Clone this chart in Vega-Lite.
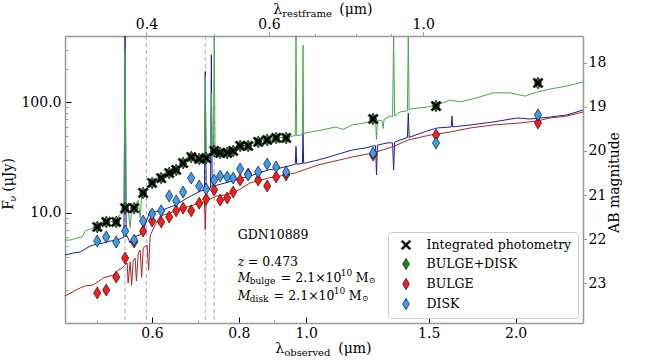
{
"$schema":"https://vega.github.io/schema/vega-lite/v6.json",
"width":518,"height":287,
"autosize":{"type":"none"},
"padding":{"left":65,"top":36,"right":65,"bottom":37},
"config":{
 "view":{"stroke":null},
 "font":"DejaVu Serif",
 "axis":{"labelFont":"DejaVu Serif","labelFontSize":14,"labelColor":"black","domainColor":"#999999","domainWidth":1.5,"grid":false,"titleFont":"DejaVu Serif","titleFontSize":14,"titleFontWeight":"normal","titleColor":"black","labelOverlap":false,"labelFlush":false},
 "text":{"font":"DejaVu Serif","color":"black"}
},
"datasets":{
 "vl":[{"lam":0.549},{"lam":0.589},{"lam":0.716},{"lam":0.7375}],
 "spec":[
{"c":"bd","lam":0.45,"f":5.65},{"c":"bd","lam":0.4578,"f":5.65},{"c":"bd","lam":0.4686,"f":5.9},{"c":"bd","lam":0.4764,"f":6.02},{"c":"bd","lam":0.4812,"f":6.82},{"c":"bd","lam":0.4892,"f":7.11},{"c":"bd","lam":0.5007,"f":7.42},{"c":"bd","lam":0.5107,"f":8.07},{"c":"bd","lam":0.5158,"f":8.24},{"c":"bd","lam":0.5227,"f":8.24},{"c":"bd","lam":0.5331,"f":8.59},{"c":"bd","lam":0.5401,"f":9.73},{"c":"bd","lam":0.547,"f":10.0},{"c":"bd","lam":0.549,"f":300},{"c":"bd","lam":0.551,"f":10.5},{"c":"bd","lam":0.5546,"f":10.8},{"c":"bd","lam":0.5583,"f":7.3},{"c":"bd","lam":0.561,"f":10.9},{"c":"bd","lam":0.5657,"f":11.3},{"c":"bd","lam":0.5734,"f":13.0},{"c":"bd","lam":0.5771,"f":9.0},{"c":"bd","lam":0.58,"f":14.0},{"c":"bd","lam":0.5828,"f":15.1},{"c":"bd","lam":0.5905,"f":16.7},{"c":"bd","lam":0.6004,"f":18.6},{"c":"bd","lam":0.6105,"f":19.8},{"c":"bd","lam":0.6187,"f":20.6},{"c":"bd","lam":0.6269,"f":22.0},{"c":"bd","lam":0.6353,"f":22.9},{"c":"bd","lam":0.6502,"f":24.9},{"c":"bd","lam":0.6653,"f":28.2},{"c":"bd","lam":0.6833,"f":31.3},{"c":"bd","lam":0.7017,"f":31.3},{"c":"bd","lam":0.711,"f":32.0},{"c":"bd","lam":0.714,"f":31.5},{"c":"bd","lam":0.716,"f":170},{"c":"bd","lam":0.718,"f":31.5},{"c":"bd","lam":0.7253,"f":33.3},{"c":"bd","lam":0.7285,"f":33.5},{"c":"bd","lam":0.7305,"f":120},{"c":"bd","lam":0.7325,"f":33.8},{"c":"bd","lam":0.7355,"f":34},{"c":"bd","lam":0.7375,"f":400},{"c":"bd","lam":0.7395,"f":35},{"c":"bd","lam":0.7521,"f":35.5},{"c":"bd","lam":0.7698,"f":35.5},{"c":"bd","lam":0.7852,"f":37.0},{"c":"bd","lam":0.8036,"f":40.3},{"c":"bd","lam":0.8251,"f":41.1},{"c":"bd","lam":0.853,"f":43.8},{"c":"bd","lam":0.8787,"f":45.6},{"c":"bd","lam":0.9053,"f":47.6},{"c":"bd","lam":0.9357,"f":48.6},{"c":"bd","lam":0.9576,"f":49.6},{"c":"bd","lam":0.9645,"f":50},{"c":"bd","lam":0.9668,"f":400},{"c":"bd","lam":0.969,"f":50},{"c":"bd","lam":0.98,"f":50.6},{"c":"bd","lam":0.9875,"f":51},{"c":"bd","lam":0.9895,"f":330},{"c":"bd","lam":0.9915,"f":51},{"c":"bd","lam":0.9964,"f":52.8},{"c":"bd","lam":1.054,"f":56.2},{"c":"bd","lam":1.1,"f":59.8},{"c":"bd","lam":1.13,"f":57.0},{"c":"bd","lam":1.164,"f":62.4},{"c":"bd","lam":1.215,"f":65.1},{"c":"bd","lam":1.248,"f":69.2},{"c":"bd","lam":1.258,"f":69.5},{"c":"bd","lam":1.262,"f":46},{"c":"bd","lam":1.266,"f":69},{"c":"bd","lam":1.286,"f":68},{"c":"bd","lam":1.29,"f":58},{"c":"bd","lam":1.294,"f":70},{"c":"bd","lam":1.32,"f":75.3},{"c":"bd","lam":1.331,"f":74},{"c":"bd","lam":1.3355,"f":400},{"c":"bd","lam":1.34,"f":75},{"c":"bd","lam":1.364,"f":81.8},{"c":"bd","lam":1.398,"f":84},{"c":"bd","lam":1.402,"f":400},{"c":"bd","lam":1.406,"f":85},{"c":"bd","lam":1.41,"f":87.1},{"c":"bd","lam":1.492,"f":90.8},{"c":"bd","lam":1.557,"f":96.7},{"c":"bd","lam":1.61,"f":105},{"c":"bd","lam":1.664,"f":101},{"c":"bd","lam":1.76,"f":110},{"c":"bd","lam":1.855,"f":122},{"c":"bd","lam":1.963,"f":122},{"c":"bd","lam":2.063,"f":114},{"c":"bd","lam":2.146,"f":124},{"c":"bd","lam":2.241,"f":132},{"c":"bd","lam":2.371,"f":141},{"c":"bd","lam":2.5,"f":153},
{"c":"d","lam":0.45,"f":4.14},{"c":"d","lam":0.4624,"f":4.31},{"c":"d","lam":0.4733,"f":4.4},{"c":"d","lam":0.4892,"f":4.99},{"c":"d","lam":0.5007,"f":5.2},{"c":"d","lam":0.5107,"f":5.31},{"c":"d","lam":0.5227,"f":5.54},{"c":"d","lam":0.5348,"f":5.65},{"c":"d","lam":0.5437,"f":5.9},{"c":"d","lam":0.547,"f":6.0},{"c":"d","lam":0.549,"f":400},{"c":"d","lam":0.551,"f":6.1},{"c":"d","lam":0.5528,"f":6.15},{"c":"d","lam":0.5583,"f":5.31},{"c":"d","lam":0.5638,"f":6.02},{"c":"d","lam":0.5771,"f":6.28},{"c":"d","lam":0.5867,"f":7.74},{"c":"d","lam":0.5964,"f":10.4},{"c":"d","lam":0.6064,"f":10.15},{"c":"d","lam":0.6166,"f":10.4},{"c":"d","lam":0.6313,"f":11.0},{"c":"d","lam":0.6481,"f":11.7},{"c":"d","lam":0.6745,"f":13.6},{"c":"d","lam":0.7041,"f":15.7},{"c":"d","lam":0.714,"f":16},{"c":"d","lam":0.716,"f":190},{"c":"d","lam":0.718,"f":16},{"c":"d","lam":0.7276,"f":16.7},{"c":"d","lam":0.7285,"f":16.8},{"c":"d","lam":0.7305,"f":270},{"c":"d","lam":0.7325,"f":16.9},{"c":"d","lam":0.7447,"f":17.8},{"c":"d","lam":0.7647,"f":18.6},{"c":"d","lam":0.7904,"f":19.8},{"c":"d","lam":0.8306,"f":21.5},{"c":"d","lam":0.8816,"f":24.4},{"c":"d","lam":0.9173,"f":25.4},{"c":"d","lam":0.9576,"f":27.1},{"c":"d","lam":0.9645,"f":27.5},{"c":"d","lam":0.9668,"f":40},{"c":"d","lam":0.969,"f":27.5},{"c":"d","lam":0.9875,"f":28},{"c":"d","lam":0.9895,"f":56},{"c":"d","lam":0.9915,"f":28},{"c":"d","lam":1.04,"f":30.0},{"c":"d","lam":1.1,"f":33.3},{"c":"d","lam":1.164,"f":37.0},{"c":"d","lam":1.215,"f":38.6},{"c":"d","lam":1.248,"f":40.3},{"c":"d","lam":1.258,"f":40.5},{"c":"d","lam":1.262,"f":22},{"c":"d","lam":1.266,"f":41},{"c":"d","lam":1.307,"f":42.9},{"c":"d","lam":1.331,"f":43},{"c":"d","lam":1.3355,"f":24.4},{"c":"d","lam":1.34,"f":43.5},{"c":"d","lam":1.364,"f":45.6},{"c":"d","lam":1.398,"f":48},{"c":"d","lam":1.402,"f":80},{"c":"d","lam":1.406,"f":48},{"c":"d","lam":1.41,"f":48.6},{"c":"d","lam":1.507,"f":56.2},{"c":"d","lam":1.542,"f":58.6},{"c":"d","lam":1.61,"f":59.8},{"c":"d","lam":1.616,"f":60},{"c":"d","lam":1.62,"f":75},{"c":"d","lam":1.624,"f":60},{"c":"d","lam":1.72,"f":62.4},{"c":"d","lam":1.855,"f":66.4},{"c":"d","lam":2.009,"f":72.2},{"c":"d","lam":2.097,"f":70.7},{"c":"d","lam":2.241,"f":73.7},{"c":"d","lam":2.371,"f":76.9},{"c":"d","lam":2.5,"f":85.3},
{"c":"b","lam":0.45,"f":1.76},{"c":"b","lam":0.4733,"f":2.08},{"c":"b","lam":0.4812,"f":2.17},{"c":"b","lam":0.4941,"f":2.21},{"c":"b","lam":0.5107,"f":2.56},{"c":"b","lam":0.5279,"f":2.72},{"c":"b","lam":0.5366,"f":3.02},{"c":"b","lam":0.5437,"f":3.15},{"c":"b","lam":0.5528,"f":3.5},{"c":"b","lam":0.5546,"f":2.3},{"c":"b","lam":0.5583,"f":3.57},{"c":"b","lam":0.561,"f":2.2},{"c":"b","lam":0.564,"f":3.7},{"c":"b","lam":0.5676,"f":3.88},{"c":"b","lam":0.57,"f":2.4},{"c":"b","lam":0.5735,"f":4.3},{"c":"b","lam":0.5771,"f":4.59},{"c":"b","lam":0.58,"f":2.6},{"c":"b","lam":0.583,"f":4.8},{"c":"b","lam":0.5905,"f":5.09},{"c":"b","lam":0.5935,"f":3.0},{"c":"b","lam":0.5964,"f":6.15},{"c":"b","lam":0.6064,"f":7.74},{"c":"b","lam":0.6166,"f":9.33},{"c":"b","lam":0.6375,"f":9.94},{"c":"b","lam":0.6524,"f":10.6},{"c":"b","lam":0.6811,"f":11.5},{"c":"b","lam":0.7041,"f":12.2},{"c":"b","lam":0.714,"f":12.6},{"c":"b","lam":0.716,"f":7.0},{"c":"b","lam":0.718,"f":12.8},{"c":"b","lam":0.7447,"f":14.2},{"c":"b","lam":0.7647,"f":14.5},{"c":"b","lam":0.7904,"f":15.4},{"c":"b","lam":0.8306,"f":18.6},{"c":"b","lam":0.8816,"f":20.6},{"c":"b","lam":0.9173,"f":21.5},{"c":"b","lam":0.964,"f":22.9},{"c":"b","lam":1.04,"f":27.1},{"c":"b","lam":1.1,"f":29.4},{"c":"b","lam":1.164,"f":32.0},{"c":"b","lam":1.248,"f":34.8},{"c":"b","lam":1.329,"f":39.4},{"c":"b","lam":1.401,"f":45.6},{"c":"b","lam":1.507,"f":50.6},{"c":"b","lam":1.61,"f":53.9},{"c":"b","lam":1.72,"f":58.6},{"c":"b","lam":1.855,"f":62.4},{"c":"b","lam":2.029,"f":65.1},{"c":"b","lam":2.146,"f":67.8},{"c":"b","lam":2.241,"f":72.2},{"c":"b","lam":2.371,"f":75.3},{"c":"b","lam":2.5,"f":81.8}
 ],
 "phot":[
{"s":"BULGE+DISK","lam":0.5007,"f":7.42},{"s":"BULGE+DISK","lam":0.5158,"f":8.24},{"s":"BULGE+DISK","lam":0.5331,"f":8.24},{"s":"BULGE+DISK","lam":0.5491,"f":11.0},{"s":"BULGE+DISK","lam":0.5657,"f":11.0},{"s":"BULGE+DISK","lam":0.5828,"f":15.1},{"s":"BULGE+DISK","lam":0.6004,"f":18.6},{"s":"BULGE+DISK","lam":0.6187,"f":20.6},{"s":"BULGE+DISK","lam":0.6353,"f":22.9},{"s":"BULGE+DISK","lam":0.6502,"f":24.4},{"s":"BULGE+DISK","lam":0.6653,"f":28.2},{"s":"BULGE+DISK","lam":0.6833,"f":32.0},{"s":"BULGE+DISK","lam":0.7017,"f":30.7},{"s":"BULGE+DISK","lam":0.7181,"f":31.3},{"s":"BULGE+DISK","lam":0.7373,"f":36.3},{"s":"BULGE+DISK","lam":0.7521,"f":34.8},{"s":"BULGE+DISK","lam":0.7698,"f":34.8},{"s":"BULGE+DISK","lam":0.7852,"f":36.3},{"s":"BULGE+DISK","lam":0.8036,"f":40.3},{"s":"BULGE+DISK","lam":0.8251,"f":40.3},{"s":"BULGE+DISK","lam":0.853,"f":43.8},{"s":"BULGE+DISK","lam":0.8787,"f":45.6},{"s":"BULGE+DISK","lam":0.9053,"f":47.6},{"s":"BULGE+DISK","lam":0.9357,"f":47.6},{"s":"BULGE+DISK","lam":1.248,"f":70.7},{"s":"BULGE+DISK","lam":1.537,"f":92.7},{"s":"BULGE+DISK","lam":2.154,"f":150},
{"s":"BULGE","lam":0.5007,"f":1.87},{"s":"BULGE","lam":0.5158,"f":1.99},{"s":"BULGE","lam":0.5331,"f":2.61},{"s":"BULGE","lam":0.5491,"f":3.88},{"s":"BULGE","lam":0.5657,"f":5.42},{"s":"BULGE","lam":0.5828,"f":6.82},{"s":"BULGE","lam":0.6004,"f":8.41},{"s":"BULGE","lam":0.6187,"f":8.24},{"s":"BULGE","lam":0.6353,"f":9.14},{"s":"BULGE","lam":0.6502,"f":10.4},{"s":"BULGE","lam":0.6653,"f":11.0},{"s":"BULGE","lam":0.6833,"f":10.4},{"s":"BULGE","lam":0.7017,"f":12.2},{"s":"BULGE","lam":0.7181,"f":13.3},{"s":"BULGE","lam":0.7373,"f":16.1},{"s":"BULGE","lam":0.7521,"f":13.0},{"s":"BULGE","lam":0.7698,"f":13.6},{"s":"BULGE","lam":0.7852,"f":15.4},{"s":"BULGE","lam":0.8036,"f":19.8},{"s":"BULGE","lam":0.8251,"f":22.4},{"s":"BULGE","lam":0.853,"f":19.8},{"s":"BULGE","lam":0.8787,"f":17.5},{"s":"BULGE","lam":0.9053,"f":21.1},{"s":"BULGE","lam":0.9357,"f":22.0},{"s":"BULGE","lam":1.248,"f":33.3},{"s":"BULGE","lam":1.537,"f":50.6},{"s":"BULGE","lam":2.154,"f":65.1},
{"s":"DISK","lam":0.5007,"f":5.54},{"s":"DISK","lam":0.5158,"f":6.02},{"s":"DISK","lam":0.5331,"f":5.42},{"s":"DISK","lam":0.5491,"f":6.82},{"s":"DISK","lam":0.5657,"f":5.65},{"s":"DISK","lam":0.5828,"f":8.41},{"s":"DISK","lam":0.6004,"f":9.73},{"s":"DISK","lam":0.6187,"f":10.4},{"s":"DISK","lam":0.6353,"f":14.2},{"s":"DISK","lam":0.6502,"f":12.8},{"s":"DISK","lam":0.6653,"f":15.4},{"s":"DISK","lam":0.6833,"f":20.6},{"s":"DISK","lam":0.7017,"f":17.5},{"s":"DISK","lam":0.7181,"f":16.4},{"s":"DISK","lam":0.7373,"f":19.8},{"s":"DISK","lam":0.7521,"f":21.5},{"s":"DISK","lam":0.7698,"f":21.1},{"s":"DISK","lam":0.7852,"f":20.6},{"s":"DISK","lam":0.8036,"f":24.9},{"s":"DISK","lam":0.8251,"f":22.0},{"s":"DISK","lam":0.853,"f":23.4},{"s":"DISK","lam":0.8787,"f":27.7},{"s":"DISK","lam":0.9053,"f":26.0},{"s":"DISK","lam":0.9357,"f":23.4},{"s":"DISK","lam":1.248,"f":34.8},{"s":"DISK","lam":1.537,"f":42.9},{"s":"DISK","lam":2.154,"f":76.9},
{"s":"Integrated photometry","lam":0.5007,"f":7.42},{"s":"Integrated photometry","lam":0.5158,"f":8.24},{"s":"Integrated photometry","lam":0.5331,"f":8.24},{"s":"Integrated photometry","lam":0.5491,"f":11.0},{"s":"Integrated photometry","lam":0.5657,"f":11.0},{"s":"Integrated photometry","lam":0.5828,"f":15.1},{"s":"Integrated photometry","lam":0.6004,"f":18.6},{"s":"Integrated photometry","lam":0.6187,"f":20.6},{"s":"Integrated photometry","lam":0.6353,"f":22.9},{"s":"Integrated photometry","lam":0.6502,"f":24.4},{"s":"Integrated photometry","lam":0.6653,"f":28.2},{"s":"Integrated photometry","lam":0.6833,"f":32.0},{"s":"Integrated photometry","lam":0.7017,"f":30.7},{"s":"Integrated photometry","lam":0.7181,"f":31.3},{"s":"Integrated photometry","lam":0.7373,"f":36.3},{"s":"Integrated photometry","lam":0.7521,"f":34.8},{"s":"Integrated photometry","lam":0.7698,"f":34.8},{"s":"Integrated photometry","lam":0.7852,"f":36.3},{"s":"Integrated photometry","lam":0.8036,"f":40.3},{"s":"Integrated photometry","lam":0.8251,"f":40.3},{"s":"Integrated photometry","lam":0.853,"f":43.8},{"s":"Integrated photometry","lam":0.8787,"f":45.6},{"s":"Integrated photometry","lam":0.9053,"f":47.6},{"s":"Integrated photometry","lam":0.9357,"f":47.6},{"s":"Integrated photometry","lam":1.248,"f":70.7},{"s":"Integrated photometry","lam":1.537,"f":92.7},{"s":"Integrated photometry","lam":2.154,"f":150}
 ]
},
"layer":[
 {"layer":[
  {"data":{"name":"vl"},"mark":{"type":"rule","color":"#aaaaaa","strokeDash":[4,3],"strokeWidth":1},
   "encoding":{"x":{"field":"lam","type":"quantitative","scale":{"type":"log","domain":[0.45,2.5],"nice":false},"axis":null}}},
  {"data":{"name":"spec"},"transform":[{"filter":"datum.c==='d'"}],"mark":{"type":"line","color":"#1f1f9c","strokeWidth":1,"clip":true},
   "encoding":{"x":{"field":"lam","type":"quantitative","scale":{"type":"log","domain":[0.45,2.5],"nice":false},"axis":null},
    "y":{"field":"f","type":"quantitative","scale":{"type":"log","domain":[1,400],"nice":false},"axis":null}}},
  {"data":{"name":"spec"},"transform":[{"filter":"datum.c==='b'"}],"mark":{"type":"line","color":"#a82828","strokeWidth":1,"clip":true},
   "encoding":{"x":{"field":"lam","type":"quantitative","scale":{"type":"log","domain":[0.45,2.5],"nice":false},"axis":null},
    "y":{"field":"f","type":"quantitative","scale":{"type":"log","domain":[1,400],"nice":false},"axis":null}}},
  {"data":{"name":"spec"},"transform":[{"filter":"datum.c==='bd'"}],"mark":{"type":"line","color":"#4ca64c","strokeWidth":1,"clip":true},
   "encoding":{"x":{"field":"lam","type":"quantitative","scale":{"type":"log","domain":[0.45,2.5],"nice":false},"axis":null},
    "y":{"field":"f","type":"quantitative","scale":{"type":"log","domain":[1,400],"nice":false},"axis":null}}},
  {"data":{"name":"phot"},"mark":{"type":"point","filled":true,"stroke":"black","strokeWidth":0.6,"size":144,"opacity":1},
   "encoding":{"x":{"field":"lam","type":"quantitative","scale":{"type":"log","domain":[0.45,2.5],"nice":false},"axis":null},
    "y":{"field":"f","type":"quantitative","scale":{"type":"log","domain":[1,400],"nice":false},"axis":null},
    "fill":{"field":"s","type":"nominal","scale":{"domain":["Integrated photometry","BULGE+DISK","BULGE","DISK"],"range":["black","#1b8a1b","#ff1a1a","#3b9cf2"]},
      "legend":{"title":null,"orient":"bottom-right","offset":5,"padding":6.5,"rowPadding":5,"labelFontSize":12.5,"labelFont":"DejaVu Serif","labelColor":"black","fillColor":"white","strokeColor":"#cccccc","cornerRadius":3,"symbolOffset":5,"labelOffset":14,"symbolSize":130,"symbolStrokeColor":"black","symbolStrokeWidth":0.6}},
    "shape":{"field":"s","type":"nominal","scale":{"domain":["Integrated photometry","BULGE+DISK","BULGE","DISK"],"range":["M-0.85,-0.6L-0.6,-0.85L0.85,0.6L0.6,0.85Z M0.6,-0.85L0.85,-0.6L-0.6,0.85L-0.85,0.6Z","M0,-1L0.6,0L0,1L-0.6,0Z","M0,-1L0.6,0L0,1L-0.6,0Z","M0,-1L0.6,0L0,1L-0.6,0Z"]}}}},
  {"data":{"values":[{"t":"GDN10889"}]},"mark":{"type":"text","align":"left","baseline":"middle","fontSize":12.5,"dx":-1},"encoding":{"x":{"datum":0.8,"type":"quantitative","scale":{"type":"log","domain":[0.45,2.5],"nice":false},"axis":null},"y":{"datum":6.28,"type":"quantitative","scale":{"type":"log","domain":[1,400],"nice":false},"axis":null},"text":{"field":"t"}}},
  {"data":{"values":[{"t":"z"}]},"mark":{"type":"text","align":"left","baseline":"middle","fontSize":12.5,"fontStyle":"italic","dx":-1},"encoding":{"x":{"datum":0.8,"type":"quantitative","scale":{"type":"log","domain":[0.45,2.5],"nice":false},"axis":null},"y":{"datum":3.57,"type":"quantitative","scale":{"type":"log","domain":[1,400],"nice":false},"axis":null},"text":{"field":"t"}}},
  {"data":{"values":[{"t":"= 0.473"}]},"mark":{"type":"text","align":"left","baseline":"middle","fontSize":12.5,"dx":9},"encoding":{"x":{"datum":0.8,"type":"quantitative","scale":{"type":"log","domain":[0.45,2.5],"nice":false},"axis":null},"y":{"datum":3.57,"type":"quantitative","scale":{"type":"log","domain":[1,400],"nice":false},"axis":null},"text":{"field":"t"}}},
  {"data":{"values":[{"t":"M"}]},"mark":{"type":"text","align":"left","baseline":"middle","fontSize":12.5,"fontStyle":"italic","dx":-1},"encoding":{"x":{"datum":0.8,"type":"quantitative","scale":{"type":"log","domain":[0.45,2.5],"nice":false},"axis":null},"y":{"datum":2.56,"type":"quantitative","scale":{"type":"log","domain":[1,400],"nice":false},"axis":null},"text":{"field":"t"}}},
  {"data":{"values":[{"t":"bulge"}]},"mark":{"type":"text","align":"left","baseline":"middle","fontSize":9,"dx":11,"dy":3},"encoding":{"x":{"datum":0.8,"type":"quantitative","scale":{"type":"log","domain":[0.45,2.5],"nice":false},"axis":null},"y":{"datum":2.56,"type":"quantitative","scale":{"type":"log","domain":[1,400],"nice":false},"axis":null},"text":{"field":"t"}}},
  {"data":{"values":[{"t":"= 2.1×10"}]},"mark":{"type":"text","align":"left","baseline":"middle","fontSize":12.5,"dx":42},"encoding":{"x":{"datum":0.8,"type":"quantitative","scale":{"type":"log","domain":[0.45,2.5],"nice":false},"axis":null},"y":{"datum":2.56,"type":"quantitative","scale":{"type":"log","domain":[1,400],"nice":false},"axis":null},"text":{"field":"t"}}},
  {"data":{"values":[{"t":"10"}]},"mark":{"type":"text","align":"left","baseline":"middle","fontSize":9,"dx":102,"dy":-5},"encoding":{"x":{"datum":0.8,"type":"quantitative","scale":{"type":"log","domain":[0.45,2.5],"nice":false},"axis":null},"y":{"datum":2.56,"type":"quantitative","scale":{"type":"log","domain":[1,400],"nice":false},"axis":null},"text":{"field":"t"}}},
  {"data":{"values":[{"t":"M"}]},"mark":{"type":"text","align":"left","baseline":"middle","fontSize":12.5,"dx":117},"encoding":{"x":{"datum":0.8,"type":"quantitative","scale":{"type":"log","domain":[0.45,2.5],"nice":false},"axis":null},"y":{"datum":2.56,"type":"quantitative","scale":{"type":"log","domain":[1,400],"nice":false},"axis":null},"text":{"field":"t"}}},
  {"data":{"values":[{"t":"⊙"}]},"mark":{"type":"text","align":"left","baseline":"middle","fontSize":8,"dx":130,"dy":3},"encoding":{"x":{"datum":0.8,"type":"quantitative","scale":{"type":"log","domain":[0.45,2.5],"nice":false},"axis":null},"y":{"datum":2.56,"type":"quantitative","scale":{"type":"log","domain":[1,400],"nice":false},"axis":null},"text":{"field":"t"}}},
  {"data":{"values":[{"t":"M"}]},"mark":{"type":"text","align":"left","baseline":"middle","fontSize":12.5,"fontStyle":"italic","dx":-1},"encoding":{"x":{"datum":0.8,"type":"quantitative","scale":{"type":"log","domain":[0.45,2.5],"nice":false},"axis":null},"y":{"datum":1.76,"type":"quantitative","scale":{"type":"log","domain":[1,400],"nice":false},"axis":null},"text":{"field":"t"}}},
  {"data":{"values":[{"t":"disk"}]},"mark":{"type":"text","align":"left","baseline":"middle","fontSize":9,"dx":11,"dy":3},"encoding":{"x":{"datum":0.8,"type":"quantitative","scale":{"type":"log","domain":[0.45,2.5],"nice":false},"axis":null},"y":{"datum":1.76,"type":"quantitative","scale":{"type":"log","domain":[1,400],"nice":false},"axis":null},"text":{"field":"t"}}},
  {"data":{"values":[{"t":"= 2.1×10"}]},"mark":{"type":"text","align":"left","baseline":"middle","fontSize":12.5,"dx":35},"encoding":{"x":{"datum":0.8,"type":"quantitative","scale":{"type":"log","domain":[0.45,2.5],"nice":false},"axis":null},"y":{"datum":1.76,"type":"quantitative","scale":{"type":"log","domain":[1,400],"nice":false},"axis":null},"text":{"field":"t"}}},
  {"data":{"values":[{"t":"10"}]},"mark":{"type":"text","align":"left","baseline":"middle","fontSize":9,"dx":95,"dy":-5},"encoding":{"x":{"datum":0.8,"type":"quantitative","scale":{"type":"log","domain":[0.45,2.5],"nice":false},"axis":null},"y":{"datum":1.76,"type":"quantitative","scale":{"type":"log","domain":[1,400],"nice":false},"axis":null},"text":{"field":"t"}}},
  {"data":{"values":[{"t":"M"}]},"mark":{"type":"text","align":"left","baseline":"middle","fontSize":12.5,"dx":110},"encoding":{"x":{"datum":0.8,"type":"quantitative","scale":{"type":"log","domain":[0.45,2.5],"nice":false},"axis":null},"y":{"datum":1.76,"type":"quantitative","scale":{"type":"log","domain":[1,400],"nice":false},"axis":null},"text":{"field":"t"}}},
  {"data":{"values":[{"t":"⊙"}]},"mark":{"type":"text","align":"left","baseline":"middle","fontSize":8,"dx":123,"dy":3},"encoding":{"x":{"datum":0.8,"type":"quantitative","scale":{"type":"log","domain":[0.45,2.5],"nice":false},"axis":null},"y":{"datum":1.76,"type":"quantitative","scale":{"type":"log","domain":[1,400],"nice":false},"axis":null},"text":{"field":"t"}}},
  {"data":{"values":[{"t":"λ"}]},"mark":{"type":"text","align":"left","baseline":"alphabetic","fontSize":14,"dx":-31,"dy":30},"encoding":{"x":{"datum":1.0,"type":"quantitative","scale":{"type":"log","domain":[0.45,2.5],"nice":false},"axis":null},"y":{"datum":1,"type":"quantitative","scale":{"type":"log","domain":[1,400],"nice":false},"axis":null},"text":{"field":"t"}}},
  {"data":{"values":[{"t":"observed"}]},"mark":{"type":"text","align":"left","baseline":"alphabetic","fontSize":10,"dx":-22,"dy":33},"encoding":{"x":{"datum":1.0,"type":"quantitative","scale":{"type":"log","domain":[0.45,2.5],"nice":false},"axis":null},"y":{"datum":1,"type":"quantitative","scale":{"type":"log","domain":[1,400],"nice":false},"axis":null},"text":{"field":"t"}}},
  {"data":{"values":[{"t":"(μm)"}]},"mark":{"type":"text","align":"left","baseline":"alphabetic","fontSize":14,"dx":32,"dy":30},"encoding":{"x":{"datum":1.0,"type":"quantitative","scale":{"type":"log","domain":[0.45,2.5],"nice":false},"axis":null},"y":{"datum":1,"type":"quantitative","scale":{"type":"log","domain":[1,400],"nice":false},"axis":null},"text":{"field":"t"}}},
  {"data":{"values":[{"t":"λ"}]},"mark":{"type":"text","align":"left","baseline":"alphabetic","fontSize":14,"dx":-33,"dy":-22},"encoding":{"x":{"datum":1.0,"type":"quantitative","scale":{"type":"log","domain":[0.45,2.5],"nice":false},"axis":null},"y":{"datum":400,"type":"quantitative","scale":{"type":"log","domain":[1,400],"nice":false},"axis":null},"text":{"field":"t"}}},
  {"data":{"values":[{"t":"restframe"}]},"mark":{"type":"text","align":"left","baseline":"alphabetic","fontSize":10,"dx":-24,"dy":-19},"encoding":{"x":{"datum":1.0,"type":"quantitative","scale":{"type":"log","domain":[0.45,2.5],"nice":false},"axis":null},"y":{"datum":400,"type":"quantitative","scale":{"type":"log","domain":[1,400],"nice":false},"axis":null},"text":{"field":"t"}}},
  {"data":{"values":[{"t":"(μm)"}]},"mark":{"type":"text","align":"left","baseline":"alphabetic","fontSize":14,"dx":33,"dy":-22},"encoding":{"x":{"datum":1.0,"type":"quantitative","scale":{"type":"log","domain":[0.45,2.5],"nice":false},"axis":null},"y":{"datum":400,"type":"quantitative","scale":{"type":"log","domain":[1,400],"nice":false},"axis":null},"text":{"field":"t"}}},
  {"data":{"values":[{"t":"F"}]},"mark":{"type":"text","align":"left","baseline":"alphabetic","fontSize":14,"angle":270,"dx":3,"dy":-52},"encoding":{"x":{"datum":0.45,"type":"quantitative","scale":{"type":"log","domain":[0.45,2.5],"nice":false},"axis":null},"y":{"datum":10,"type":"quantitative","scale":{"type":"log","domain":[1,400],"nice":false},"axis":null},"text":{"field":"t"}}},
  {"data":{"values":[{"t":"ν"}]},"mark":{"type":"text","align":"left","baseline":"alphabetic","fontSize":10,"angle":270,"dx":11,"dy":-49},"encoding":{"x":{"datum":0.45,"type":"quantitative","scale":{"type":"log","domain":[0.45,2.5],"nice":false},"axis":null},"y":{"datum":10,"type":"quantitative","scale":{"type":"log","domain":[1,400],"nice":false},"axis":null},"text":{"field":"t"}}},
  {"data":{"values":[{"t":"(μJy)"}]},"mark":{"type":"text","align":"left","baseline":"alphabetic","fontSize":14,"angle":270,"dx":21,"dy":-52},"encoding":{"x":{"datum":0.45,"type":"quantitative","scale":{"type":"log","domain":[0.45,2.5],"nice":false},"axis":null},"y":{"datum":10,"type":"quantitative","scale":{"type":"log","domain":[1,400],"nice":false},"axis":null},"text":{"field":"t"}}}
 ]},
 {"data":{"values":[{"lam":1,"f":10}]},"mark":{"type":"point","opacity":0},
  "encoding":{"x":{"field":"lam","type":"quantitative","scale":{"type":"log","domain":[0.45,2.5],"nice":false},
     "axis":{"orient":"bottom","title":null,"values":[0.5,0.6,0.7,0.8,0.9,1,1.5,2],
       "labelExpr":"indexof([0.6,0.8,1,1.5,2],datum.value)>=0 ? format(datum.value,'.1f') : ''",
       "tickSize":{"condition":{"test":"indexof([0.5,0.7,0.9],datum.value)>=0","value":-3},"value":-6},
       "tickColor":{"condition":{"test":"indexof([0.5,0.7,0.9],datum.value)>=0","value":"#999999"},"value":"black"},
       "labelPadding":9}},
    "y":{"field":"f","type":"quantitative","scale":{"type":"log","domain":[1,400],"nice":false},
     "axis":{"orient":"left","title":null,"values":[2,3,4,5,6,7,8,9,10,20,30,40,50,60,70,80,90,100,200,300],
       "labelExpr":"datum.value==10||datum.value==100 ? format(datum.value,'.1f') : ''",
       "tickSize":{"condition":{"test":"datum.value!=10&&datum.value!=100","value":-3},"value":-6},
       "tickColor":{"condition":{"test":"datum.value!=10&&datum.value!=100","value":"#999999"},"value":"black"},
       "labelPadding":10}}}},
 {"data":{"values":[{"r":0.5,"m":20}]},"mark":{"type":"point","opacity":0},
  "encoding":{"x":{"field":"r","type":"quantitative","scale":{"type":"log","domain":[0.3055,1.6972],"nice":false},
    "axis":{"orient":"top","title":null,"values":[0.4,0.5,0.6,0.7,0.8,0.9,1],
      "labelExpr":"datum.value==0.4||datum.value==0.6||datum.value==1 ? format(datum.value,'.1f') : ''",
      "tickSize":{"condition":{"test":"datum.value==0.4||datum.value==0.6||datum.value==1","value":4},"value":2.5},
      "tickColor":"#999999","labelPadding":1}},
   "y":{"field":"m","type":"quantitative","scale":{"domain":[23.9,17.395],"nice":false,"zero":false},
    "axis":{"orient":"right","title":"AB magnitude","values":[18,19,20,21,22,23],"tickSize":3.5,"tickColor":"#999999","labelPadding":1.5,
      "titleAngle":270,"titleX":35,"titleY":146,"titleAlign":"center","titleBaseline":"alphabetic"}}}}
],
"resolve":{"scale":{"x":"independent","y":"independent"}}
}
